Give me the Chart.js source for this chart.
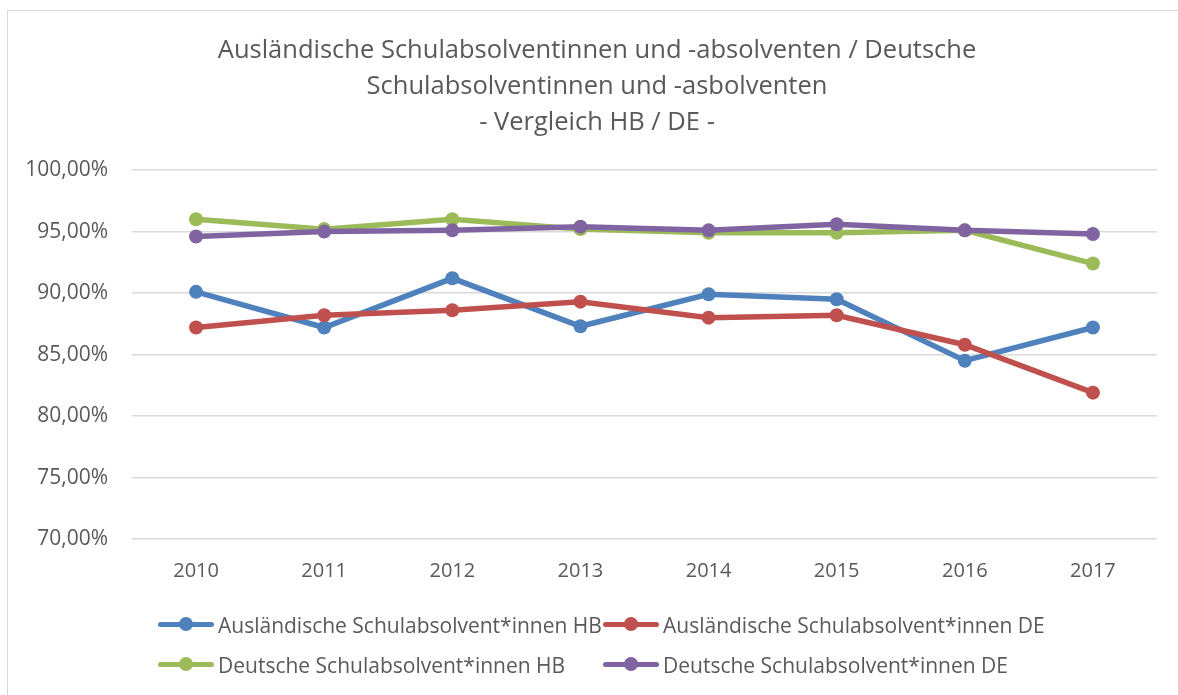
<!DOCTYPE html>
<html>
<head>
<meta charset="utf-8">
<script src="https://cdn.jsdelivr.net/npm/chart.js@4.4.1/dist/chart.umd.min.js"></script>
<style>
  html, body { margin: 0; padding: 0; background: #fff; }
  #frame { position: absolute; left: 7px; top: 10px; width: 1200px; height: 720px; border: 1px solid #d9d9d9; }
  #wrap { position: absolute; left: 0; top: 0; width: 1178px; height: 695px; }
  #legend { position: absolute; left: 158px; top: 608px; font-family: "Open Sans", sans-serif; font-size: 21px; color: #595959; }
  .item { position: absolute; white-space: nowrap; height: 34px; line-height: 34px; }
  .mark { position: absolute; left: 0; top: 14px; width: 56px; height: 5px; border-radius: 3px; }
  .mark i { position: absolute; left: 21px; top: -5px; width: 14px; height: 14px; border-radius: 50%; background: inherit; }
  .item span { position: absolute; left: 60px; top: 0; }
</style>
</head>
<body>
<div id="frame"></div>
<div id="wrap"><canvas id="chart" width="1178" height="695"></canvas></div>
<div id="legend"></div>
<script>
// Ausländische / Deutsche Schulabsolvent*innen, HB vs. DE
const years = ['2010', '2011', '2012', '2013', '2014', '2015', '2016', '2017'];
const auslHB = [90.1, 87.2, 91.2, 87.3, 89.9, 89.5, 84.5, 87.2];
const auslDE = [87.2, 88.2, 88.6, 89.3, 88.0, 88.2, 85.8, 81.9];
const deutHB = [96.0, 95.2, 96.0, 95.2, 94.9, 94.9, 95.1, 92.4];
const deutDE = [94.6, 95.0, 95.1, 95.4, 95.1, 95.6, 95.1, 94.8];

const seriesNames = [
  'Ausländische Schulabsolvent*innen HB',
  'Ausländische Schulabsolvent*innen DE',
  'Deutsche Schulabsolvent*innen HB',
  'Deutsche Schulabsolvent*innen DE'
];
const seriesColors = ['#4f81bd', '#c0504d', '#9bbb59', '#8064a2'];
const titleLines = [
  'Ausländische Schulabsolventinnen und -absolventen / Deutsche',
  'Schulabsolventinnen und -asbolventen',
  '- Vergleich HB / DE -'
];

const FONT = '"Open Sans", sans-serif';
const GREY = '#595959';

function makeSet(i, values) {
  return {
    label: seriesNames[i],
    data: values,
    borderColor: seriesColors[i],
    backgroundColor: seriesColors[i],
    pointBackgroundColor: seriesColors[i],
    pointBorderWidth: 0,
    pointRadius: 7,
    borderWidth: 5.5,
    tension: 0,
    order: 3 - i
  };
}

// the original title sits a bit right of the canvas centre
const titleShift = {
  id: 'titleShift',
  afterLayout(chart) {
    if (chart.titleBlock) chart.titleBlock.left = 37;
  }
};

const chart = new Chart(document.getElementById('chart'), {
  type: 'line',
  data: {
    labels: years,
    datasets: [makeSet(0, auslHB), makeSet(1, auslDE), makeSet(2, deutHB), makeSet(3, deutDE)]
  },
  plugins: [titleShift],
  options: {
    responsive: false,
    animation: false,
    layout: { padding: { left: 0, right: 21, top: 0, bottom: 0 } },
    plugins: {
      legend: { display: false },
      tooltip: { enabled: false },
      title: {
        display: true,
        text: titleLines,
        color: GREY,
        font: { family: FONT, size: 25.5, weight: 'normal', lineHeight: 1.4 },
        padding: { top: 33, bottom: 30 }
      }
    },
    scales: {
      x: {
        offset: true,
        grid: { display: false, drawTicks: false },
        border: { display: false },
        ticks: { color: GREY, font: { family: FONT, size: 20 }, padding: 20 },
        afterFit: s => { s.height = 156; }
      },
      y: {
        min: 70,
        max: 100,
        grid: { color: '#d9d9d9', lineWidth: 1.5, drawTicks: false },
        border: { display: false },
        ticks: {
          stepSize: 5,
          color: GREY,
          padding: 24,
          font: { family: FONT, size: 21 },
          callback: v => v.toFixed(2).replace('.', ',') + '%'
        },
        afterFit: s => { s.width = 132; }
      }
    }
  }
});

// legend laid out as a 2x2 grid like the original
const legend = document.getElementById('legend');
const colX = [0, 445];
const rowY = [0, 40];
seriesNames.forEach((name, i) => {
  const item = document.createElement('div');
  item.className = 'item';
  item.style.left = colX[i % 2] + 'px';
  item.style.top = rowY[Math.floor(i / 2)] + 'px';
  const mark = document.createElement('div');
  mark.className = 'mark';
  mark.style.background = seriesColors[i];
  mark.appendChild(document.createElement('i'));
  const txt = document.createElement('span');
  txt.textContent = name;
  item.appendChild(mark);
  item.appendChild(txt);
  legend.appendChild(item);
});
</script>
</body>
</html>
